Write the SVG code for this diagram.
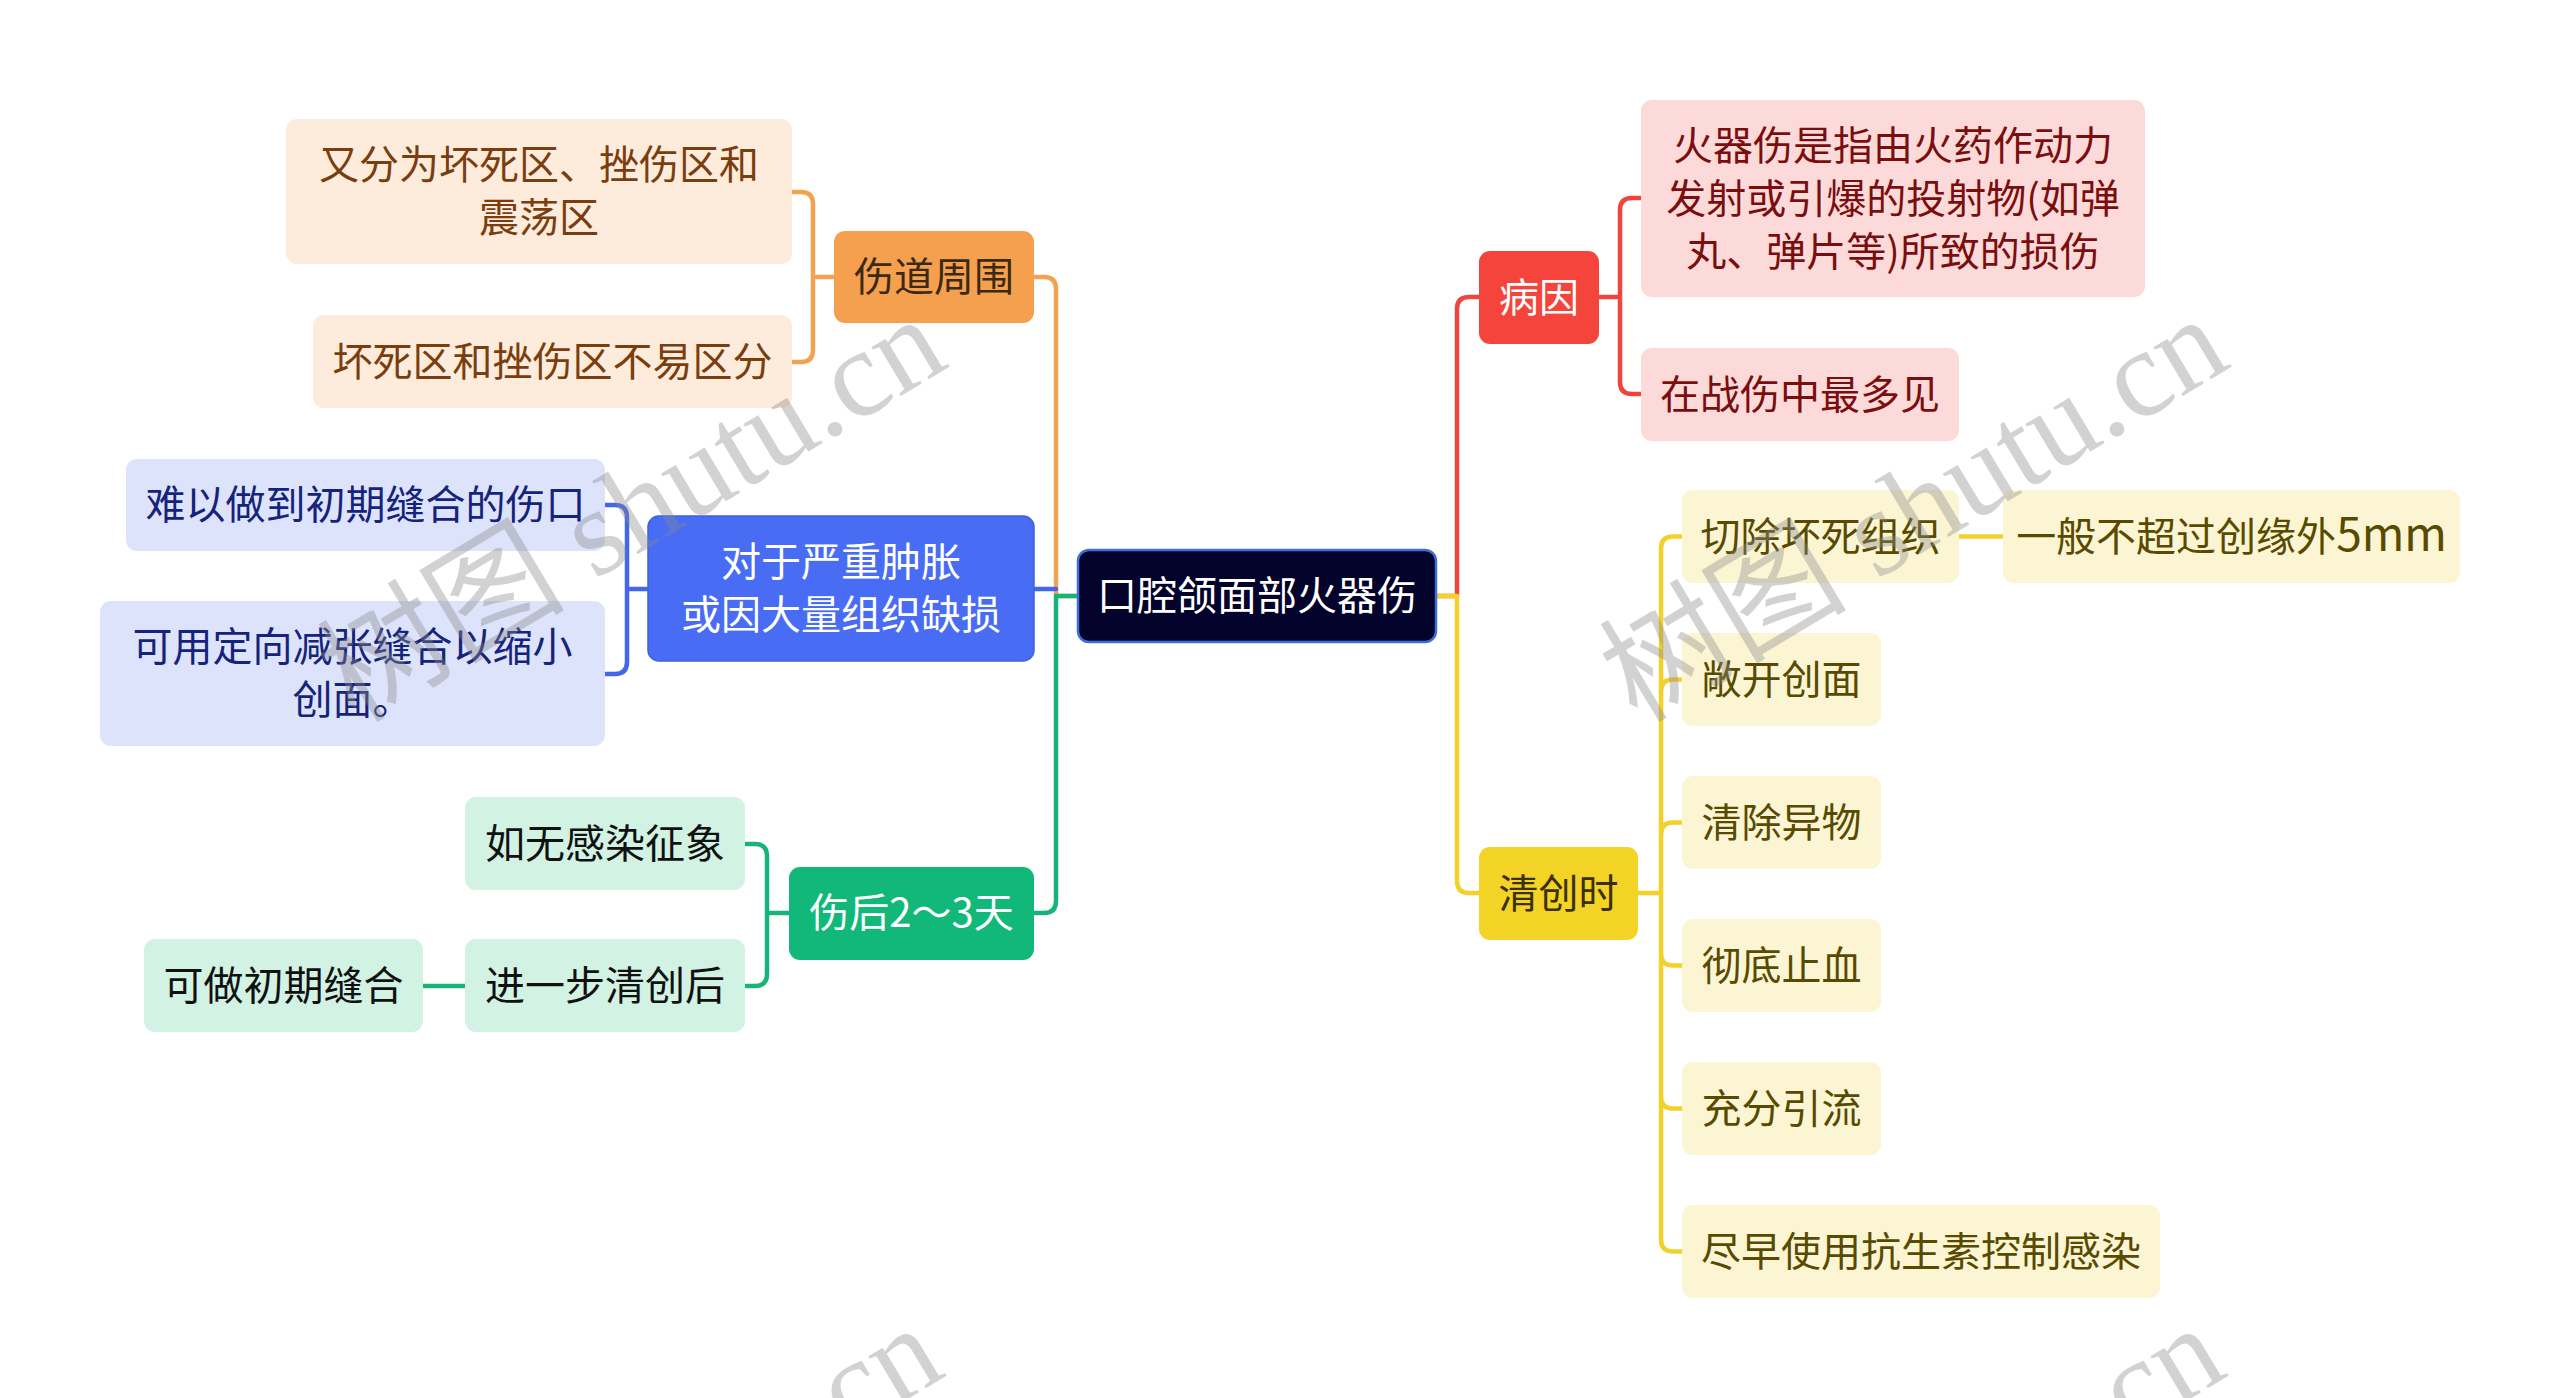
<svg xmlns="http://www.w3.org/2000/svg" width="2560" height="1398" viewBox="0 0 2560 1398">
<style>
.t{font-family:"Noto Sans CJK SC","Noto Sans",sans-serif;font-size:40px;text-anchor:middle}
.c{fill:none;stroke-width:4.5;stroke-linecap:round;stroke-linejoin:round}
.wm{font-family:"Liberation Serif","Noto Sans CJK SC",serif;font-size:124px;fill:#8a8a8a;opacity:.38}
</style>
<rect width="2560" height="1398" fill="#ffffff"/>
<g id="connectors">
<path class="c" stroke="#F1A352" d="M1078 596 H1056 V289 Q1056 277 1044 277 H1034"/>
<path class="c" stroke="#4466E8" d="M1056 589 H1034"/>
<path class="c" stroke="#17B47A" d="M1078 596 H1056 V901 Q1056 913 1044 913 H1034"/>
<path class="c" stroke="#F1A352" d="M834 277 H813 V204 Q813 192 801 192 H792 M834 277 H813 V350 Q813 362 801 362 H792"/>
<path class="c" stroke="#4466E8" d="M648 589 H627 V517 Q627 505 615 505 H605 M648 589 H627 V662 Q627 674 615 674 H605"/>
<path class="c" stroke="#17B47A" d="M789 913 H767 V856 Q767 844 755 844 H745 M789 913 H767 V974 Q767 986 755 986 H745"/>
<path class="c" stroke="#17B47A" d="M465 986 H423"/>
<path class="c" stroke="#EE463E" d="M1436 596 H1457 V309 Q1457 297 1469 297 H1479"/>
<path class="c" stroke="#F2D12A" d="M1436 596 H1457 V881 Q1457 893 1469 893 H1479"/>
<path class="c" stroke="#EE463E" d="M1599 297 H1620 V210 Q1620 198 1632 198 H1641 M1599 297 H1620 V382 Q1620 394 1632 394 H1641"/>
<path class="c" stroke="#F2D12A" d="M1638 893 H1661 V548.5 Q1661 536.5 1673 536.5 H1682 M1661 893 V691.5 Q1661 679.5 1673 679.5 H1682 M1661 893 V834.5 Q1661 822.5 1673 822.5 H1682 M1661 893 V953.5 Q1661 965.5 1673 965.5 H1682 M1661 893 V1096.5 Q1661 1108.5 1673 1108.5 H1682 M1661 893 V1239.5 Q1661 1251.5 1673 1251.5 H1682"/>
<path class="c" stroke="#F2D12A" d="M1959 536.5 H2003"/>
</g>
<g id="root"><rect x="1078" y="550" width="358" height="92" rx="11" fill="#03032B" stroke="#3D6FD9" stroke-width="2.5"/><text class="t" x="1257" y="610" fill="#ffffff">口腔颌面部火器伤</text></g>
<g id="n-shangdao"><rect x="834" y="231" width="200" height="92" rx="11" fill="#F4A04E"/><text class="t" x="934" y="291" fill="#3B2914">伤道周围</text></g>
<g id="n-duiyu"><rect x="648" y="516" width="386" height="145" rx="11" fill="#496CF4" stroke="#3F60E0" stroke-width="1.5"/><text class="t" x="841" y="576" fill="#ffffff">对于严重肿胀</text><text class="t" x="841" y="629" fill="#ffffff">或因大量组织缺损</text></g>
<g id="n-shanghou"><rect x="789" y="867" width="245" height="93" rx="11" fill="#12B87A"/><text class="t" x="911.5" y="927" fill="#ffffff">伤后2～3天</text></g>
<g id="n-youfen"><rect x="286" y="119" width="506" height="145" rx="11" fill="#FDEBDC"/><text class="t" x="539" y="179" fill="#7A3E0E">又分为坏死区、挫伤区和</text><text class="t" x="539" y="232" fill="#7A3E0E">震荡区</text></g>
<g id="n-huaisi"><rect x="313" y="315" width="479" height="93" rx="11" fill="#FDEBDC"/><text class="t" x="552.5" y="375.5" fill="#7A3E0E">坏死区和挫伤区不易区分</text></g>
<g id="n-nanyi"><rect x="126" y="459" width="479" height="92" rx="11" fill="#DCE3FB"/><text class="t" x="365.5" y="519" fill="#16237A">难以做到初期缝合的伤口</text></g>
<g id="n-keyong"><rect x="100" y="601" width="505" height="145" rx="11" fill="#DCE3FB"/><text class="t" x="352.5" y="661" fill="#16237A">可用定向减张缝合以缩小</text><text class="t" x="352.5" y="714" fill="#16237A">创面。</text></g>
<g id="n-ruwu"><rect x="465" y="797" width="280" height="93" rx="11" fill="#D2F2E3"/><text class="t" x="605" y="857.5" fill="#111111">如无感染征象</text></g>
<g id="n-jinyibu"><rect x="465" y="939" width="280" height="93" rx="11" fill="#D2F2E3"/><text class="t" x="605" y="999.5" fill="#111111">进一步清创后</text></g>
<g id="n-kezuo"><rect x="144" y="939" width="279" height="93" rx="11" fill="#D2F2E3"/><text class="t" x="283.5" y="999.5" fill="#111111">可做初期缝合</text></g>
<g id="n-bingyin"><rect x="1479" y="251" width="120" height="93" rx="11" fill="#F5443C"/><text class="t" x="1539" y="311.5" fill="#ffffff">病因</text></g>
<g id="n-qingchuang"><rect x="1479" y="847" width="159" height="93" rx="11" fill="#F2D326"/><text class="t" x="1558.5" y="907.5" fill="#3A3000">清创时</text></g>
<g id="n-huoqi"><rect x="1641" y="100" width="504" height="197" rx="11" fill="#FDDADA"/><text class="t" x="1893" y="159.5" fill="#7A0E0E">火器伤是指由火药作动力</text><text class="t" x="1893" y="212.5" fill="#7A0E0E">发射或引爆的投射物(如弹</text><text class="t" x="1893" y="265.5" fill="#7A0E0E">丸、弹片等)所致的损伤</text></g>
<g id="n-zaizhan"><rect x="1641" y="348" width="318" height="93" rx="11" fill="#FDDADA"/><text class="t" x="1800" y="408.5" fill="#7A0E0E">在战伤中最多见</text></g>
<g id="n-qiechu"><rect x="1682" y="490" width="277" height="93" rx="11" fill="#FCF5D3"/><text class="t" x="1820.5" y="550.5" fill="#584A00">切除坏死组织</text></g>
<g id="n-yiban"><rect x="2003" y="490" width="457" height="93" rx="11" fill="#FCF5D3"/><text class="t" x="2231.5" y="550.5" fill="#584A00">一般不超过创缘外<tspan font-size="46">5mm</tspan></text></g>
<g id="n-changkai"><rect x="1682" y="633" width="199" height="93" rx="11" fill="#FCF5D3"/><text class="t" x="1781.5" y="693.5" fill="#584A00">敞开创面</text></g>
<g id="n-qingchu"><rect x="1682" y="776" width="199" height="93" rx="11" fill="#FCF5D3"/><text class="t" x="1781.5" y="836.5" fill="#584A00">清除异物</text></g>
<g id="n-chedi"><rect x="1682" y="919" width="199" height="93" rx="11" fill="#FCF5D3"/><text class="t" x="1781.5" y="979.5" fill="#584A00">彻底止血</text></g>
<g id="n-chongfen"><rect x="1682" y="1062" width="199" height="93" rx="11" fill="#FCF5D3"/><text class="t" x="1781.5" y="1122.5" fill="#584A00">充分引流</text></g>
<g id="n-jinzao"><rect x="1682" y="1205" width="478" height="93" rx="11" fill="#FCF5D3"/><text class="t" x="1921" y="1265.5" fill="#584A00">尽早使用抗生素控制感染</text></g>
<g id="watermark">
<text class="wm" transform="translate(355 724) rotate(-31)">树图 shutu.cn</text>
<text class="wm" transform="translate(1637 724) rotate(-31)">树图 shutu.cn</text>
<text class="wm" transform="translate(352 1733) rotate(-31)">树图 shutu.cn</text>
<text class="wm" transform="translate(1634 1733) rotate(-31)">树图 shutu.cn</text>
</g>
</svg>
